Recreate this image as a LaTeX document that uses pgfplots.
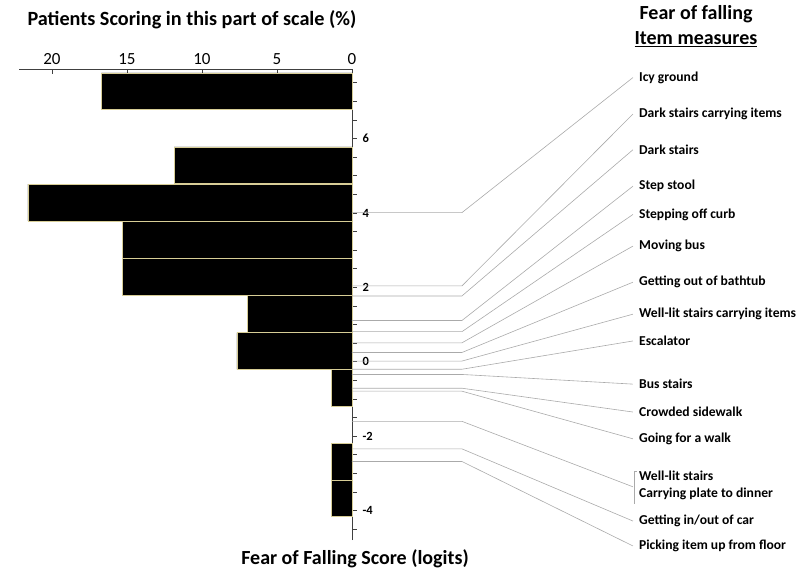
\documentclass[border=0pt]{standalone}
\usepackage{pgfplots}
\pgfplotsset{compat=1.18}
\usepackage{fontspec}
\setmainfont{Carlito}
\definecolor{baredge}{RGB}{215,205,150}
\definecolor{conn}{RGB}{170,170,170}
\begin{document}
\begin{tikzpicture}[x=1pt,y=1pt]
\useasboundingbox (0,0) rectangle (800,-573);
\begin{axis}[
 at={(19pt,-69pt)},anchor=north west,
 scale only axis,width=333pt,height=471pt,
 x dir=reverse,xmin=0,xmax=22.2,ymin=-4.79,ymax=7.87,
 axis x line=top,axis y line=right,
 axis line style={-,black!75,line width=0.8pt},
 xtick={0,5,10,15,20},xtick align=inside,
 ytick={-4,-2,0,2,4,6},minor ytick={-4.5,-4,...,7.5},ytick align=outside,
 major tick length=5pt,minor tick length=5pt,
 tick style={black!75,line width=0.7pt},
 /pgf/number format/assume math mode=true,
 xticklabel style={font=\fontsize{17}{17}\selectfont,yshift=1pt},
 yticklabel style={font=\bfseries\fontsize{12.5}{12.5}\selectfont,xshift=2pt},
 connector/.style={conn,line width=0.6pt,no marks},
 clip=false]
\addplot[xbar,bar width=0.99,fill=black,draw=baredge,line width=0.8pt] coordinates {
(16.7,7.27) (11.85,5.28) (21.6,4.28) (15.33,3.28) (15.33,2.28)
(6.98,1.28) (7.67,0.29) (1.35,-0.70) (1.35,-2.69) (1.35,-3.67)
};
% connectors: item position -> elbow -> label
\addplot[connector] coordinates {(0,4.01) (-7.33,4.01) (-18.73,7.64)};
\addplot[connector] coordinates {(0,2.04) (-7.33,2.04) (-18.73,6.66)};
\addplot[connector] coordinates {(0,1.77) (-7.33,1.77) (-18.73,5.70)};
\addplot[connector] coordinates {(0,1.11) (-7.33,1.11) (-18.73,4.72)};
\addplot[connector] coordinates {(0,0.81) (-7.33,0.81) (-18.73,3.96)};
\addplot[connector] coordinates {(0,0.51) (-7.33,0.51) (-18.73,3.11)};
\addplot[connector] coordinates {(0,0.25) (-7.33,0.25) (-18.73,2.14)};
\addplot[connector] coordinates {(0,0.02) (-7.33,0.02) (-18.73,1.28)};
\addplot[connector] coordinates {(0,-0.20) (-7.33,-0.20) (-18.73,0.56)};
\addplot[connector] coordinates {(0,-0.34) (-7.33,-0.34) (-18.73,-0.60)};
\addplot[connector] coordinates {(0,-0.71) (-7.33,-0.71) (-18.73,-1.35)};
\addplot[connector] coordinates {(0,-0.79) (-7.33,-0.79) (-18.73,-2.07)};
\addplot[connector] coordinates {(0,-1.60) (-7.33,-1.60) (-18.73,-3.36)};
\addplot[connector] coordinates {(0,-2.34) (-7.33,-2.34) (-18.73,-4.28)};
\addplot[connector] coordinates {(0,-2.68) (-7.33,-2.68) (-18.73,-4.95)};
\addplot[connector] coordinates {(-18.97,-2.94) (-18.83,-2.94) (-18.83,-3.82)};
\begin{scope}[every node/.style={anchor=west,font=\bfseries\fontsize{13.6}{13.6}\selectfont,inner sep=0pt}]
\node at (axis cs:-19.13,7.64) {Icy ground};
\node at (axis cs:-19.13,6.66) {Dark stairs carrying items};
\node at (axis cs:-19.13,5.70) {Dark stairs};
\node at (axis cs:-19.13,4.72) {Step stool};
\node at (axis cs:-19.13,3.96) {Stepping off curb};
\node at (axis cs:-19.13,3.11) {Moving bus};
\node at (axis cs:-19.13,2.14) {Getting out of bathtub};
\node at (axis cs:-19.13,1.28) {Well-lit stairs carrying items};
\node at (axis cs:-19.13,0.56) {Escalator};
\node at (axis cs:-19.13,-0.60) {Bus stairs};
\node at (axis cs:-19.13,-1.35) {Crowded sidewalk};
\node at (axis cs:-19.13,-2.07) {Going for a walk};
\node at (axis cs:-19.13,-3.06) {Well-lit stairs};
\node at (axis cs:-19.13,-3.54) {Carrying plate to dinner};
\node at (axis cs:-19.13,-4.28) {Getting in/out of car};
\node at (axis cs:-19.13,-4.95) {Picking item up from floor};
\end{scope}
\end{axis}
\node[font=\bfseries\fontsize{20.2}{20.2}\selectfont] at (192,-20) {Patients Scoring in this part of scale (\%)};
\node[font=\bfseries\fontsize{20}{20}\selectfont] at (355,-559) {Fear of Falling Score (logits)};
\node[font=\bfseries\fontsize{20}{20}\selectfont] at (696,-14) {Fear of falling};
\node[font=\bfseries\fontsize{20}{20}\selectfont] at (696,-39) {\underline{Item measures}};
\end{tikzpicture}
\end{document}
